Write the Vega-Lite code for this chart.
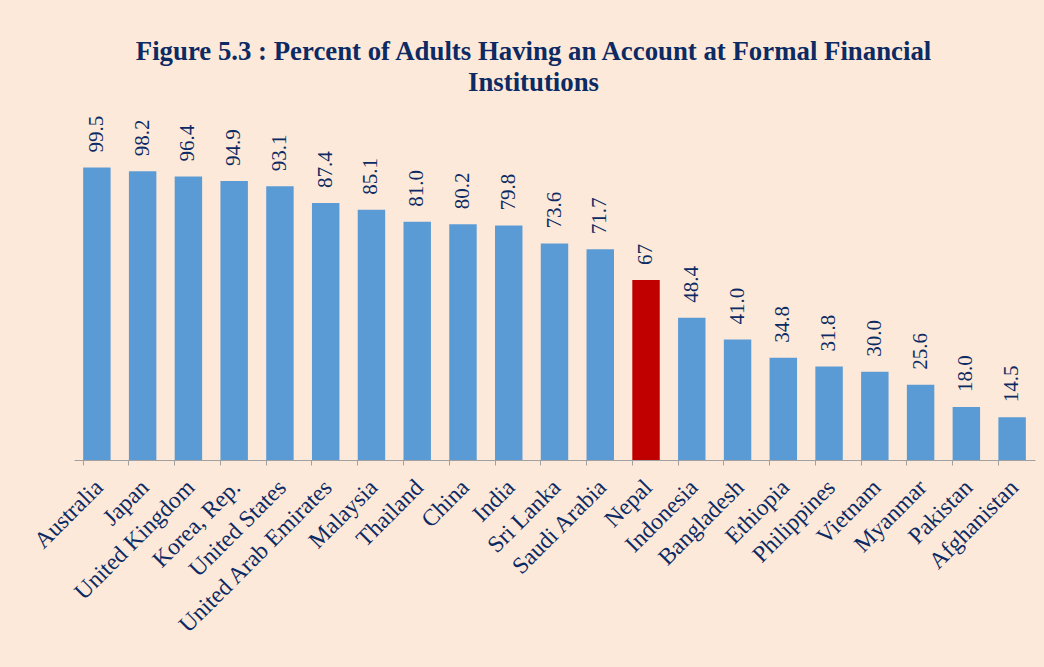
{
  "$schema": "https://vega.github.io/schema/vega-lite/v6.json",
  "autosize": {"type": "none"},
  "width": 961,
  "height": 294,
  "padding": {"left": 74, "top": 166, "right": 9, "bottom": 207},
  "background": "#fde9d9",
  "config": {
    "view": {"stroke": null},
    "font": "Liberation Serif"
  },
  "title": {
    "text": ["Figure 5.3 : Percent of Adults Having an Account at Formal Financial", "Institutions"],
    "font": "Liberation Serif",
    "fontSize": 26.8,
    "fontWeight": "bold",
    "color": "#0c2a63",
    "anchor": "middle",
    "frame": "group",
    "dx": -21,
    "offset": 19,
    "lineHeight": 31
  },
  "data": {
    "values": [
      {"country": "Australia", "value": 99.5, "label": "99.5", "highlight": "no"},
      {"country": "Japan", "value": 98.2, "label": "98.2", "highlight": "no"},
      {"country": "United Kingdom", "value": 96.4, "label": "96.4", "highlight": "no"},
      {"country": "Korea, Rep.", "value": 94.9, "label": "94.9", "highlight": "no"},
      {"country": "United States", "value": 93.1, "label": "93.1", "highlight": "no"},
      {"country": "United Arab Emirates", "value": 87.4, "label": "87.4", "highlight": "no"},
      {"country": "Malaysia", "value": 85.1, "label": "85.1", "highlight": "no"},
      {"country": "Thailand", "value": 81.0, "label": "81.0", "highlight": "no"},
      {"country": "China", "value": 80.2, "label": "80.2", "highlight": "no"},
      {"country": "India", "value": 79.8, "label": "79.8", "highlight": "no"},
      {"country": "Sri Lanka", "value": 73.6, "label": "73.6", "highlight": "no"},
      {"country": "Saudi Arabia", "value": 71.7, "label": "71.7", "highlight": "no"},
      {"country": "Nepal", "value": 61.2, "label": "67", "highlight": "yes"},
      {"country": "Indonesia", "value": 48.4, "label": "48.4", "highlight": "no"},
      {"country": "Bangladesh", "value": 41.0, "label": "41.0", "highlight": "no"},
      {"country": "Ethiopia", "value": 34.8, "label": "34.8", "highlight": "no"},
      {"country": "Philippines", "value": 31.8, "label": "31.8", "highlight": "no"},
      {"country": "Vietnam", "value": 30.0, "label": "30.0", "highlight": "no"},
      {"country": "Myanmar", "value": 25.6, "label": "25.6", "highlight": "no"},
      {"country": "Pakistan", "value": 18.0, "label": "18.0", "highlight": "no"},
      {"country": "Afghanistan", "value": 14.5, "label": "14.5", "highlight": "no"}
    ]
  },
  "encoding": {
    "x": {
      "field": "country",
      "type": "nominal",
      "sort": null,
      "scale": {"paddingInner": 0.4, "paddingOuter": 0.2},
      "axis": {
        "title": null,
        "labelAngle": -45,
        "labelAlign": "right",
        "labelBaseline": "top",
        "labelFont": "Liberation Serif",
        "labelFontSize": 23.5,
        "labelColor": "#0c2a63",
        "labelPadding": 10,
        "labelOffset": -6,
        "labelOverlap": false,
        "labelLimit": 400,
        "domainColor": "#a0a0a0",
        "tickColor": "#a0a0a0",
        "tickSize": 5,
        "bandPosition": 0,
        "grid": false
      }
    },
    "y": {
      "field": "value",
      "type": "quantitative",
      "scale": {"domain": [0, 100]},
      "axis": null
    }
  },
  "layer": [
    {
      "mark": {"type": "bar", "clip": false},
      "encoding": {
        "color": {
          "field": "highlight",
          "type": "nominal",
          "scale": {"domain": ["no", "yes"], "range": ["#5b9bd5", "#c00000"]},
          "legend": null
        }
      }
    },
    {
      "mark": {
        "type": "text",
        "angle": -90,
        "align": "left",
        "baseline": "middle",
        "dx": 15,
        "font": "Liberation Serif",
        "fontSize": 21,
        "color": "#0c2a63"
      },
      "encoding": {"text": {"field": "label"}}
    }
  ]
}
